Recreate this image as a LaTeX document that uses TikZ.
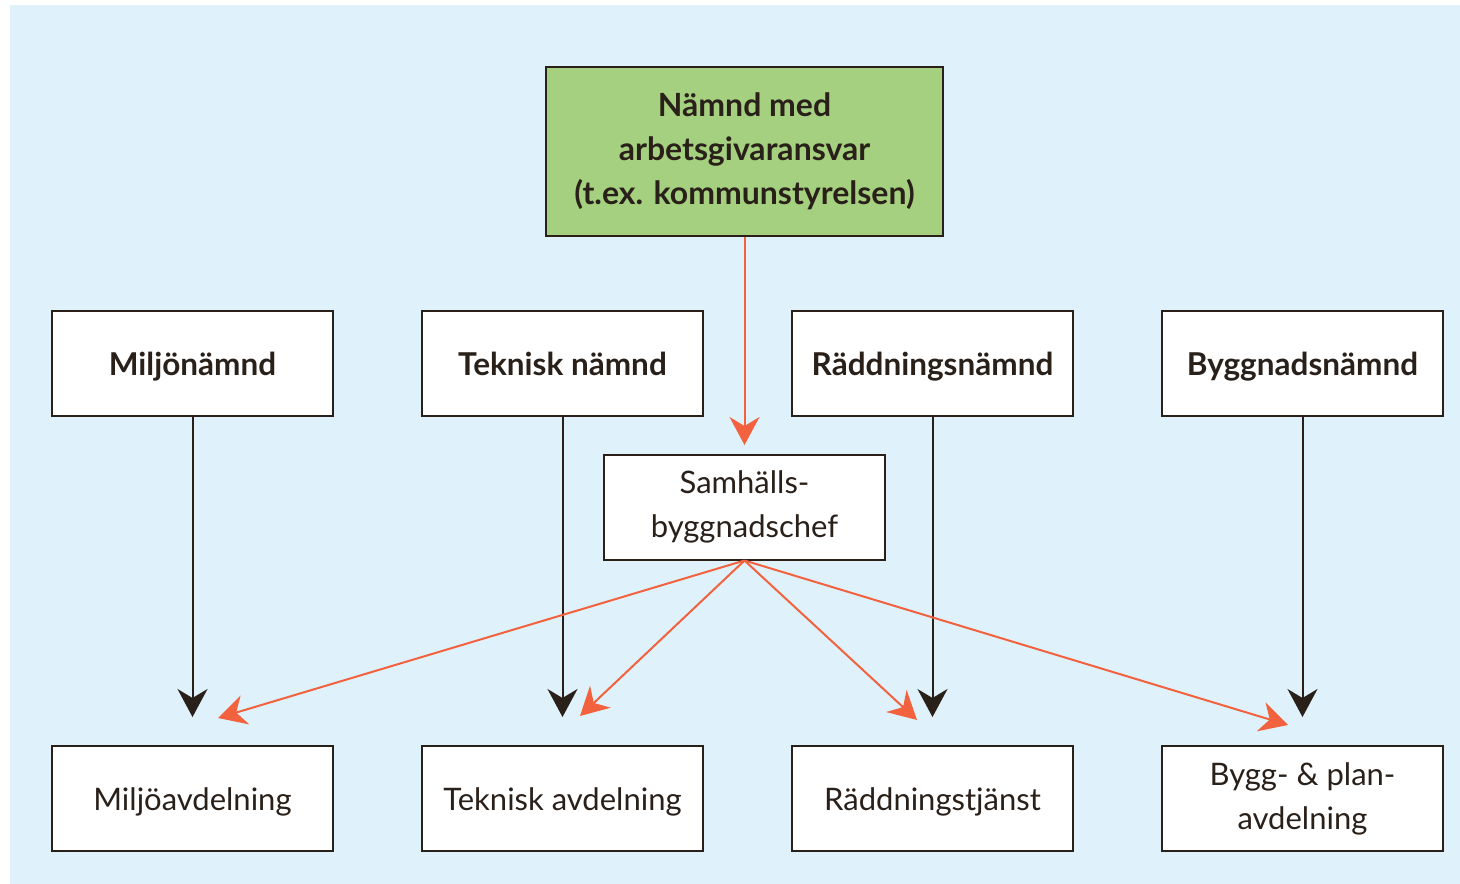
\documentclass[tikz,border=0pt]{standalone}
\usepackage{fontspec}
\setmainfont{Lato}
\usetikzlibrary{arrows.meta}
\definecolor{bgblue}{RGB}{223,242,251}
\definecolor{green1}{RGB}{165,208,128}
\definecolor{ink}{RGB}{42,32,26}
\definecolor{orng}{RGB}{242,98,62}
\tikzset{
  box/.style={draw=ink, line width=2pt, fill=white, minimum width=281pt, minimum height=105pt, inner sep=0pt, align=center, text=ink},
  topbox/.style={box, fill=green1, minimum width=397pt, minimum height=169pt, font=\bfseries\fontsize{32}{44}\selectfont},
  headbox/.style={box, font=\bfseries\fontsize{31.5}{44}\selectfont, text height=23pt, text depth=0pt},
  unitbox/.style={box, font=\fontsize{31}{44}\selectfont},
  unitone/.style={unitbox, text height=23pt, text depth=0pt},
  blk/.style={draw=ink, line width=2pt, -{Stealth[length=28pt,width=30pt,inset=9pt]}},
  org/.style={draw=orng, line width=2pt, -{Stealth[length=28pt,width=30pt,inset=9pt]}},
}
\begin{document}
\begin{tikzpicture}[x=1pt,y=-1pt]
\useasboundingbox (0,0) rectangle (1460,884);
\fill[bgblue] (10,5) rectangle (1460,884);
\node[topbox] (top) at (744.5,151.5) {Nämnd med\\arbetsgivaransvar\\(t.ex. kommunstyrelsen)};
\node[headbox] (h1) at (192.5,363.5) {Miljönämnd};
\node[headbox] (h2) at (562.5,363.5) {Teknisk nämnd};
\node[headbox] (h3) at (932.5,363.5) {Räddningsnämnd};
\node[headbox] (h4) at (1302.5,363.5) {Byggnadsnämnd};
\node[unitbox] (s) at (744.5,507) {Samhälls-\\byggnadschef};
\node[unitone] (u1) at (192.5,798.5) {Miljöavdelning};
\node[unitone] (u2) at (562.5,798.5) {Teknisk avdelning};
\node[unitone] (u3) at (932.5,798.5) {Räddningstjänst};
\node[unitbox] (u4) at (1302.5,798.5) {Bygg- \& plan-\\avdelning};
\coordinate (t1) at (192.5,717);
\coordinate (t2) at (562.5,717);
\coordinate (t3) at (932.5,717);
\coordinate (t4) at (1302.5,717);
\coordinate (st) at (744.5,445);
\coordinate (o1) at (218,718);
\coordinate (o2) at (580,716);
\coordinate (o3) at (917,720);
\coordinate (o4) at (1288,725);
\draw[blk] (h1.south) -- (t1);
\draw[blk] (h2.south) -- (t2);
\draw[blk] (h3.south) -- (t3);
\draw[blk] (h4.south) -- (t4);
\draw[org] (top.south) -- (st);
\draw[org] (s.south) -- (o1);
\draw[org] (s.south) -- (o2);
\draw[org] (s.south) -- (o3);
\draw[org] (s.south) -- (o4);
\end{tikzpicture}
\end{document}
